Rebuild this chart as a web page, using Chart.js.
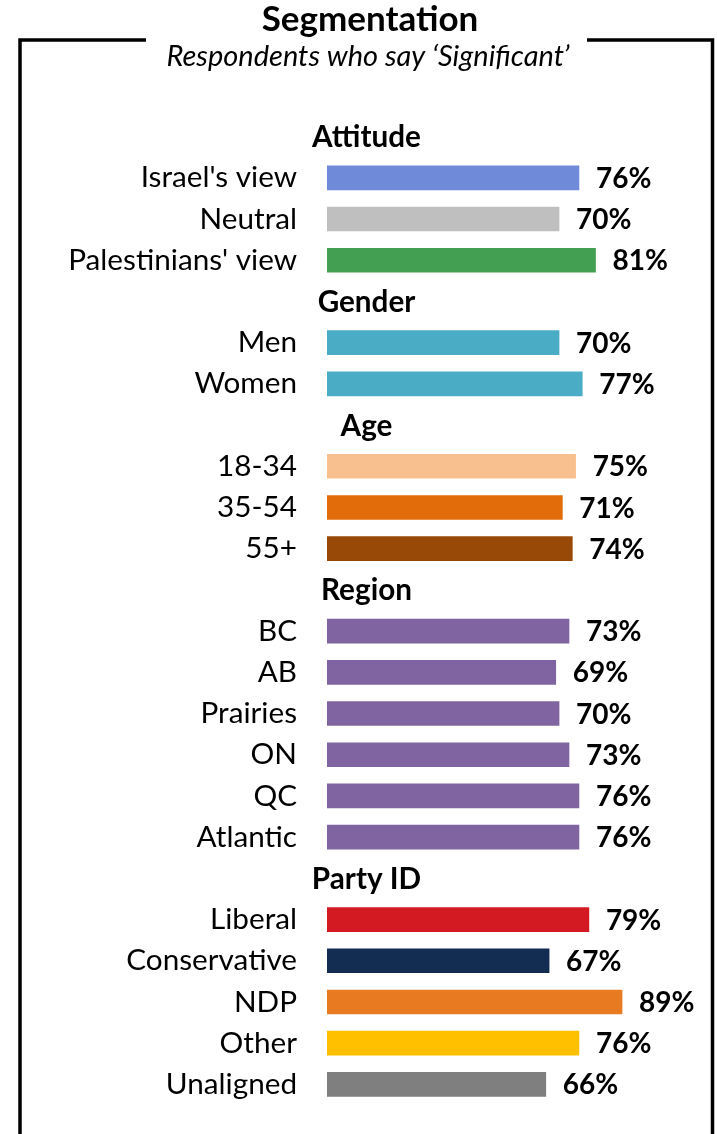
<!DOCTYPE html>
<html>
<head>
<meta charset="utf-8">
<script src="https://cdn.jsdelivr.net/npm/chart.js@4"></script>
<style>
  html, body { margin: 0; padding: 0; background: #fff; }
  canvas { display: block; }
</style>
</head>
<body>
<canvas id="segChart" width="717" height="1134"></canvas>
<script>
// rows top to bottom; group headers have no bar
const categories = [
  "Attitude", "Israel's view", "Neutral", "Palestinians' view",
  "Gender", "Men", "Women",
  "Age", "18-34", "35-54", "55+",
  "Region", "BC", "AB", "Prairies", "ON", "QC", "Atlantic",
  "Party ID", "Liberal", "Conservative", "NDP", "Other", "Unaligned"
];
const headers = ["Attitude", "Gender", "Age", "Region", "Party ID"];
const values = [
  null, 76, 70, 81,
  null, 70, 77,
  null, 75, 71, 74,
  null, 73, 69, 70, 73, 76, 76,
  null, 79, 67, 89, 76, 66
];
const barColors = [
  null, "#6F8AD9", "#BFBFBF", "#43A052",
  null, "#4BACC6", "#4BACC6",
  null, "#F9C08F", "#E36C0A", "#984807",
  null, "#8064A2", "#8064A2", "#8064A2", "#8064A2", "#8064A2", "#8064A2",
  null, "#D31A22", "#122C52", "#E87A22", "#FFC000", "#7F7F7F"
];
const titleText = "Segmentation";
const subtitleText = "Respondents who say \u2018Significant\u2019";

const FONT = "Lato";

// headers, value labels, title and the open frame
const decorPlugin = {
  id: "decor",
  afterDatasetsDraw(chart) {
    const ctx = chart.ctx;
    const yScale = chart.scales.y;
    const meta = chart.getDatasetMeta(0);
    ctx.save();
    ctx.fillStyle = "#000";

    ctx.font = "bold 29.7px " + FONT;
    ctx.textAlign = "center";
    ctx.textBaseline = "middle";
    categories.forEach((c, i) => {
      if (headers.includes(c)) ctx.fillText(c, 366.5, yScale.getPixelForValue(i) + 1);
    });

    ctx.font = "bold 28px " + FONT;
    ctx.textAlign = "left";
    meta.data.forEach((bar, i) => {
      if (values[i] == null) return;
      ctx.fillText(values[i] + "%", bar.x + 17, bar.y + 1);
    });

    ctx.textAlign = "center";
    ctx.textBaseline = "alphabetic";
    ctx.font = "bold 35px " + FONT;
    ctx.fillText(titleText, 370, 31);
    ctx.font = "italic 29px " + FONT;
    ctx.fillText(subtitleText, 368, 66);

    ctx.strokeStyle = "#000";
    ctx.lineWidth = 3.5;
    ctx.beginPath();
    ctx.moveTo(146, 40);
    ctx.lineTo(20, 40);
    ctx.lineTo(20, 1134);
    ctx.moveTo(587, 40);
    ctx.lineTo(712.5, 40);
    ctx.lineTo(712.5, 1134);
    ctx.stroke();
    ctx.restore();
  }
};

new Chart(document.getElementById("segChart").getContext("2d"), {
  type: "bar",
  data: {
    labels: categories,
    datasets: [
      {
        data: values,
        backgroundColor: barColors,
        barThickness: 24,
      },
    ],
  },
  options: {
    indexAxis: "y",
    responsive: false,
    animation: false,
    layout: {
      padding: { top: 116, bottom: 29, left: 0, right: 58.5 },
    },
    plugins: {
      legend: { display: false },
      tooltip: { enabled: false },
    },
    scales: {
      x: {
        display: false,
        min: 0,
        max: 100,
      },
      y: {
        // tick marks are hidden; tickLength only sets the gap before the labels
        grid: { display: false, drawTicks: true, tickLength: 30 },
        border: { display: false },
        afterFit: (scale) => { scale.width = 327; },
        ticks: {
          autoSkip: false,
          padding: 0,
          color: "#000",
          font: { family: FONT, size: 29.7 },
          callback: function (value, index) {
            const label = categories[index];
            return headers.includes(label) ? "" : label;
          },
        },
      },
    },
  },
  plugins: [decorPlugin],
});
</script>
</body>
</html>
